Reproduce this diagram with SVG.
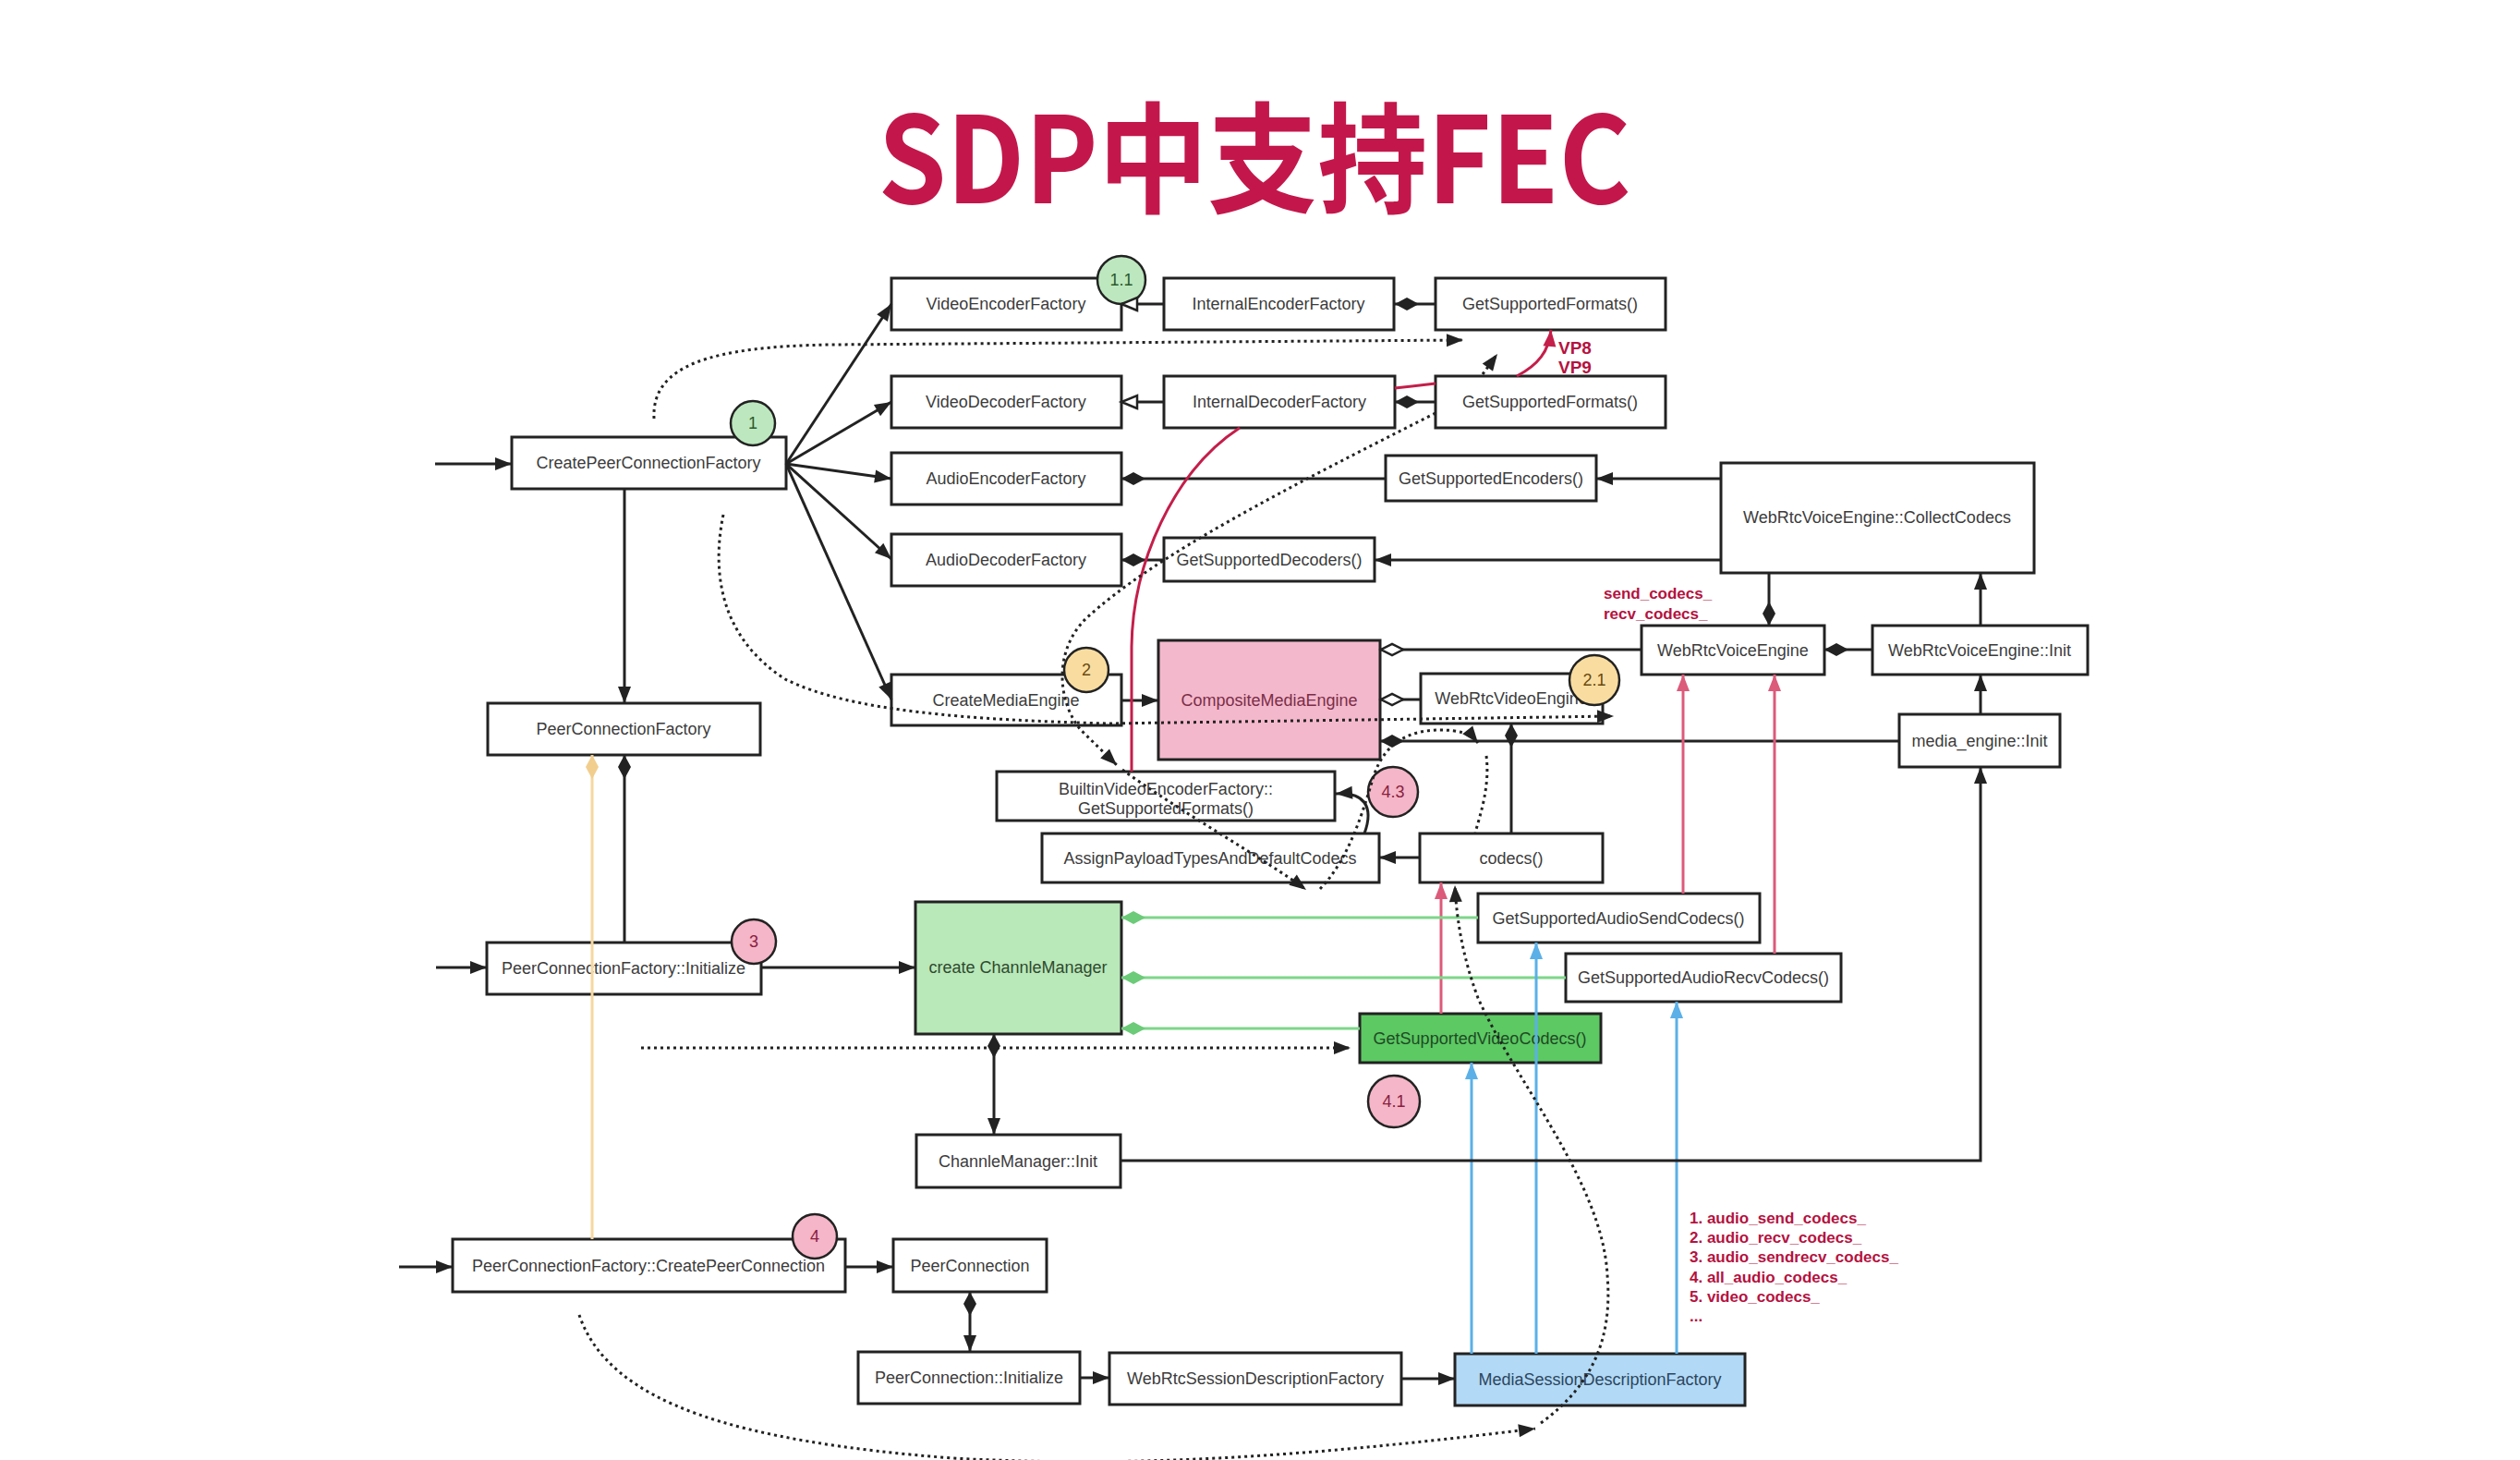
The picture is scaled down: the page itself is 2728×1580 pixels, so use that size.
<svg xmlns="http://www.w3.org/2000/svg" width="2728" height="1580" viewBox="0 0 2728 1580">
<style>
.box{fill:#fff;stroke:#222;stroke-width:3}
.lbl{font-family:'Liberation Sans',Arial,sans-serif;font-size:18px;fill:#3c3c3c;text-anchor:middle}
.ln{fill:none;stroke:#222;stroke-width:3}
.dot{fill:none;stroke:#222;stroke-width:3;stroke-dasharray:3 4}
.pink{fill:none;stroke:#DC5A7A;stroke-width:3}
.redc{fill:none;stroke:#C41E4A;stroke-width:3}
.blue{fill:none;stroke:#5BB0E8;stroke-width:3}
.grn{fill:none;stroke:#7ED68A;stroke-width:3}
.org{fill:none;stroke:#F6D7A0;stroke-width:3}
.circ{stroke:#222;stroke-width:2.5}
.ctx{font-family:'Liberation Sans',Arial,sans-serif;font-size:18px;text-anchor:middle}
.ann{font-family:'Liberation Sans',Arial,sans-serif;font-weight:bold;font-size:17px;fill:#B5123F}
.vp{font-family:'Liberation Sans',Arial,sans-serif;font-weight:bold;font-size:19px;fill:#B5123F}
</style>
<defs>
<marker id="ah" markerUnits="userSpaceOnUse" markerWidth="20" markerHeight="16" refX="18" refY="7" orient="auto" style="overflow:visible"><path d="M0,0 L18,7 L0,14 z" fill="#222"/></marker>
<marker id="ahRed" markerUnits="userSpaceOnUse" markerWidth="20" markerHeight="16" refX="18" refY="7" orient="auto" style="overflow:visible"><path d="M0,0 L18,7 L0,14 z" fill="#C41E4A"/></marker>
<marker id="ahPink" markerUnits="userSpaceOnUse" markerWidth="20" markerHeight="16" refX="18" refY="7" orient="auto" style="overflow:visible"><path d="M0,0 L18,7 L0,14 z" fill="#DC5A7A"/></marker>
<marker id="ahBlue" markerUnits="userSpaceOnUse" markerWidth="20" markerHeight="16" refX="18" refY="7" orient="auto" style="overflow:visible"><path d="M0,0 L18,7 L0,14 z" fill="#5BB0E8"/></marker>
<marker id="dmE" markerUnits="userSpaceOnUse" markerWidth="26" markerHeight="14" refX="26" refY="7" orient="auto" style="overflow:visible"><path d="M0,7 L13,0 L26,7 L13,14 z" fill="#222"/></marker>
<marker id="dmS" markerUnits="userSpaceOnUse" markerWidth="26" markerHeight="14" refX="0" refY="7" orient="auto" style="overflow:visible"><path d="M0,7 L13,0 L26,7 L13,14 z" fill="#222"/></marker>
<marker id="hdm" markerUnits="userSpaceOnUse" markerWidth="26" markerHeight="14" refX="26" refY="7" orient="auto" style="overflow:visible"><path d="M1,7 L13,1 L25,7 L13,13 z" fill="#fff" stroke="#222" stroke-width="2.5"/></marker>
<marker id="gdm" markerUnits="userSpaceOnUse" markerWidth="26" markerHeight="14" refX="26" refY="7" orient="auto" style="overflow:visible"><path d="M0,7 L13,0 L26,7 L13,14 z" fill="#6CCB78"/></marker>
<marker id="odm" markerUnits="userSpaceOnUse" markerWidth="26" markerHeight="14" refX="26" refY="7" orient="auto" style="overflow:visible"><path d="M0,7 L13,0 L26,7 L13,14 z" fill="#F2CE8E"/></marker>
<marker id="htri" markerUnits="userSpaceOnUse" markerWidth="20" markerHeight="16" refX="18" refY="8" orient="auto" style="overflow:visible"><path d="M1,1 L18,8 L1,15 z" fill="#fff" stroke="#222" stroke-width="2.5"/></marker>
</defs>
<rect width="2728" height="1580" fill="#fff"/>
<text x="1358" y="220" font-family="'Noto Sans CJK SC',sans-serif" font-weight="700" font-size="130" fill="#C3174B" text-anchor="middle" textLength="815" lengthAdjust="spacingAndGlyphs">SDP中支持FEC</text>

<g id="n-vef"><rect class="box" x="965" y="301" width="249" height="56"/><text class="lbl" x="1089" y="335">VideoEncoderFactory</text></g>
<g id="n-ief"><rect class="box" x="1260" y="301" width="249" height="56"/><text class="lbl" x="1384" y="335">InternalEncoderFactory</text></g>
<g id="n-gsf1"><rect class="box" x="1554" y="301" width="249" height="56"/><text class="lbl" x="1678" y="335">GetSupportedFormats()</text></g>
<g id="n-vdf"><rect class="box" x="965" y="407" width="249" height="56"/><text class="lbl" x="1089" y="441">VideoDecoderFactory</text></g>
<g id="n-idf"><rect class="box" x="1260" y="407" width="250" height="56"/><text class="lbl" x="1385" y="441">InternalDecoderFactory</text></g>
<g id="n-gsf2"><rect class="box" x="1554" y="407" width="249" height="56"/><text class="lbl" x="1678" y="441">GetSupportedFormats()</text></g>
<g id="n-aef"><rect class="box" x="965" y="490" width="249" height="56"/><text class="lbl" x="1089" y="524">AudioEncoderFactory</text></g>
<g id="n-gse"><rect class="box" x="1500" y="493" width="228" height="49"/><text class="lbl" x="1614" y="524">GetSupportedEncoders()</text></g>
<g id="n-cc"><rect class="box" x="1863" y="501" width="339" height="119"/><text class="lbl" x="2032" y="566">WebRtcVoiceEngine::CollectCodecs</text></g>
<g id="n-adf"><rect class="box" x="965" y="578" width="249" height="56"/><text class="lbl" x="1089" y="612">AudioDecoderFactory</text></g>
<g id="n-gsd"><rect class="box" x="1260" y="582" width="228" height="47"/><text class="lbl" x="1374" y="612">GetSupportedDecoders()</text></g>
<g id="n-cpcf"><rect class="box" x="554" y="473" width="297" height="56"/><text class="lbl" x="702" y="507">CreatePeerConnectionFactory</text></g>
<g id="n-pcf"><rect class="box" x="528" y="761" width="295" height="56"/><text class="lbl" x="675" y="795">PeerConnectionFactory</text></g>
<g id="n-cme"><rect class="box" x="965" y="730" width="249" height="55"/><text class="lbl" x="1089" y="764">CreateMediaEngine</text></g>
<g id="n-comp"><rect class="box" x="1254" y="693" width="240" height="129" style="fill:#F4B8CC"/><text class="lbl" x="1374" y="764" style="fill:#7A2E48">CompositeMediaEngine</text></g>
<g id="n-wvide"><rect class="box" x="1538" y="729" width="197" height="54"/><text class="lbl" x="1636" y="762">WebRtcVideoEngine</text></g>
<g id="n-wvoe"><rect class="box" x="1777" y="677" width="198" height="53"/><text class="lbl" x="1876" y="710">WebRtcVoiceEngine</text></g>
<g id="n-wvoeinit"><rect class="box" x="2027" y="677" width="233" height="53"/><text class="lbl" x="2143" y="710">WebRtcVoiceEngine::Init</text></g>
<g id="n-meinit"><rect class="box" x="2056" y="773" width="174" height="57"/><text class="lbl" x="2143" y="808">media_engine::Init</text></g>
<g id="n-bvef"><rect class="box" x="1079" y="835" width="366" height="53"/><text class="lbl" x="1262" y="860">BuiltinVideoEncoderFactory::</text><text class="lbl" x="1262" y="881">GetSupportedFormats()</text></g>
<g id="n-assign"><rect class="box" x="1128" y="902" width="365" height="53"/><text class="lbl" x="1310" y="935">AssignPayloadTypesAndDefaultCodecs</text></g>
<g id="n-codecs"><rect class="box" x="1537" y="902" width="198" height="53"/><text class="lbl" x="1636" y="935">codecs()</text></g>
<g id="n-gsasc"><rect class="box" x="1600" y="967" width="305" height="53"/><text class="lbl" x="1752" y="1000">GetSupportedAudioSendCodecs()</text></g>
<g id="n-gsarc"><rect class="box" x="1695" y="1032" width="298" height="52"/><text class="lbl" x="1844" y="1064">GetSupportedAudioRecvCodecs()</text></g>
<g id="n-cm"><rect class="box" x="991" y="976" width="223" height="143" style="fill:#B9E8B9"/><text class="lbl" x="1102" y="1053" style="fill:#2F4A2F">create ChannleManager</text></g>
<g id="n-gsvc"><rect class="box" x="1472" y="1097" width="261" height="53" style="fill:#5CC963"/><text class="lbl" x="1602" y="1130" style="fill:#1F4A24">GetSupportedVideoCodecs()</text></g>
<g id="n-pcfinit"><rect class="box" x="527" y="1020" width="297" height="56"/><text class="lbl" x="675" y="1054">PeerConnectionFactory::Initialize</text></g>
<g id="n-cminit"><rect class="box" x="992" y="1228" width="221" height="57"/><text class="lbl" x="1102" y="1263">ChannleManager::Init</text></g>
<g id="n-cpc"><rect class="box" x="490" y="1341" width="425" height="57"/><text class="lbl" x="702" y="1376">PeerConnectionFactory::CreatePeerConnection</text></g>
<g id="n-pc"><rect class="box" x="967" y="1341" width="166" height="57"/><text class="lbl" x="1050" y="1376">PeerConnection</text></g>
<g id="n-pcinit"><rect class="box" x="929" y="1463" width="240" height="56"/><text class="lbl" x="1049" y="1497">PeerConnection::Initialize</text></g>
<g id="n-wsdf"><rect class="box" x="1201" y="1464" width="316" height="56"/><text class="lbl" x="1359" y="1498">WebRtcSessionDescriptionFactory</text></g>
<g id="n-msdf"><rect class="box" x="1575" y="1465" width="314" height="56" style="fill:#B2D9F5"/><text class="lbl" x="1732" y="1499" style="fill:#2C4660">MediaSessionDescriptionFactory</text></g>

<g id="c1"><circle class="circ" cx="815" cy="458" r="24" fill="#BDE8BF"/><text class="ctx" x="815" y="464" fill="#2B5A2B">1</text></g>
<g id="c11"><circle class="circ" cx="1214" cy="303" r="26" fill="#BDE8BF"/><text class="ctx" x="1214" y="309" fill="#2B5A2B">1.1</text></g>
<g id="c2"><circle class="circ" cx="1176" cy="725" r="24" fill="#F9DDA0"/><text class="ctx" x="1176" y="731" fill="#6A4A10">2</text></g>
<g id="c21"><circle class="circ" cx="1726" cy="736" r="27" fill="#F9DDA0"/><text class="ctx" x="1726" y="742" fill="#6A4A10">2.1</text></g>
<g id="c3"><circle class="circ" cx="816" cy="1019" r="24" fill="#F4B6C8"/><text class="ctx" x="816" y="1025" fill="#8A2040">3</text></g>
<g id="c4"><circle class="circ" cx="882" cy="1338" r="24" fill="#F4B6C8"/><text class="ctx" x="882" y="1344" fill="#8A2040">4</text></g>
<g id="c41"><circle class="circ" cx="1509" cy="1192" r="28" fill="#F4B6C8"/><text class="ctx" x="1509" y="1198" fill="#8A2040">4.1</text></g>
<g id="c43"><circle class="circ" cx="1508" cy="857" r="27" fill="#F4B6C8"/><text class="ctx" x="1508" y="863" fill="#8A2040">4.3</text></g>

<g id="connectors">
<path class="ln" d="M471,502 H554" marker-end="url(#ah)"/>
<path class="ln" d="M472,1047 H527" marker-end="url(#ah)"/>
<path class="ln" d="M432,1371 H490" marker-end="url(#ah)"/>
<path class="ln" d="M851,502 L965,329" marker-end="url(#ah)"/>
<path class="ln" d="M851,502 L965,435" marker-end="url(#ah)"/>
<path class="ln" d="M851,502 L965,518" marker-end="url(#ah)"/>
<path class="ln" d="M851,502 L965,605" marker-end="url(#ah)"/>
<path class="ln" d="M851,502 L965,757" marker-end="url(#ah)"/>
<path class="ln" d="M676,529 V761" marker-end="url(#ah)"/>
<path class="ln" d="M1260,329 H1214" marker-end="url(#htri)"/>
<path class="ln" d="M1554,329 H1510" marker-end="url(#dmE)"/>
<path class="ln" d="M1260,435 H1214" marker-end="url(#htri)"/>
<path class="ln" d="M1554,435 H1510" marker-end="url(#dmE)"/>
<path class="ln" d="M1500,518 H1214" marker-end="url(#dmE)"/>
<path class="ln" d="M1863,518 H1728" marker-end="url(#ah)"/>
<path class="ln" d="M1260,606 H1214" marker-end="url(#dmE)"/>
<path class="ln" d="M1863,606 H1488" marker-end="url(#ah)"/>
<path class="ln" d="M1915,620 V677" marker-end="url(#dmE)"/>
<path class="ln" d="M2144,677 V620" marker-end="url(#ah)"/>
<path class="ln" d="M2027,703 H1975" marker-end="url(#dmE)"/>
<path class="ln" d="M2144,773 V730" marker-end="url(#ah)"/>
<path class="ln" d="M1777,703 H1494" marker-end="url(#hdm)"/>
<path class="ln" d="M1538,757 H1494" marker-end="url(#hdm)"/>
<path class="ln" d="M2056,802 H1494" marker-end="url(#dmE)"/>
<path class="ln" d="M1636,902 V783" marker-end="url(#dmE)"/>
<path class="ln" d="M1214,758 H1254" marker-end="url(#ah)"/>
<path class="ln" d="M1537,928 H1493" marker-end="url(#ah)"/>
<path class="ln" d="M1477,902 C1488,872 1476,857 1446,859" marker-end="url(#ah)"/>
<path class="pink" d="M1822,967 V730" marker-end="url(#ahPink)"/>
<path class="pink" d="M1921,1032 V730" marker-end="url(#ahPink)"/>
<path class="pink" d="M1560,1097 V955" marker-end="url(#ahPink)"/>
<path class="grn" d="M1600,993 H1214" marker-end="url(#gdm)"/>
<path class="grn" d="M1695,1058 H1214" marker-end="url(#gdm)"/>
<path class="grn" d="M1472,1113 H1214" marker-end="url(#gdm)"/>
<path class="blue" d="M1593,1465 V1150" marker-end="url(#ahBlue)"/>
<path class="blue" d="M1663,1465 V1020" marker-end="url(#ahBlue)"/>
<path class="blue" d="M1815,1465 V1084" marker-end="url(#ahBlue)"/>
<path class="ln" d="M1213,1256 H2144 V830" marker-end="url(#ah)"/>
<path class="ln" d="M1076,1119 V1228" marker-start="url(#dmS)" marker-end="url(#ah)"/>
<path class="ln" d="M824,1047 H991" marker-end="url(#ah)"/>
<path class="ln" d="M676,1020 V817" marker-end="url(#dmE)"/>
<path class="org" d="M641,1341 V817" marker-end="url(#odm)"/>
<path class="ln" d="M915,1371 H967" marker-end="url(#ah)"/>
<path class="ln" d="M1050,1398 V1463" marker-start="url(#dmS)" marker-end="url(#ah)"/>
<path class="ln" d="M1169,1491 H1201" marker-end="url(#ah)"/>
<path class="ln" d="M1517,1492 H1575" marker-end="url(#ah)"/>
<path class="redc" d="M1225,835 L1225,700 C1226,610 1270,510 1342,463"/>
<path class="redc" d="M1510,420 L1554,415"/>
<path class="redc" d="M1642,407 C1665,395 1677,380 1679,357" marker-end="url(#ahRed)"/>
<path class="dot" d="M708,453 C705,395 770,375 900,373 L1584,368" marker-end="url(#ah)"/>
<path class="dot" d="M783,557 C770,620 780,690 850,735 C920,770 1050,779 1200,783 L1747,775" marker-end="url(#ah)"/>
<path class="dot" d="M1554,447 C1400,525 1250,600 1175,670 C1140,705 1145,760 1170,790 L1209,828" marker-end="url(#ah)"/>
<path class="dot" d="M1605,405 L1621,383" marker-end="url(#ah)"/>
<path class="dot" d="M1215,833 C1280,880 1370,930 1414,963" marker-end="url(#ah)"/>
<path class="dot" d="M1429,962 C1460,930 1475,880 1487,840 C1500,800 1530,790 1559,790 C1580,790 1592,794 1600,804" marker-end="url(#ah)"/>
<path class="dot" d="M1609,818 C1613,850 1603,880 1597,901"/>
<path class="dot" d="M627,1423 C660,1520 800,1560 1031,1578 C1250,1590 1450,1572 1662,1546" marker-end="url(#ah)"/>
<path class="dot" d="M1668,1540 C1730,1495 1745,1440 1740,1380 C1735,1280 1640,1170 1600,1080 C1585,1040 1577,1000 1575,958" marker-end="url(#ah)"/>
<path class="dot" d="M694,1134 H1462" marker-end="url(#ah)"/>
</g>

<g id="annotations">
<text class="vp" x="1687" y="383">VP8</text>
<text class="vp" x="1687" y="404">VP9</text>
<text class="ann" x="1736" y="648">send_codecs_</text>
<text class="ann" x="1736" y="670">recv_codecs_</text>
<text class="ann" x="1829" y="1324">1. audio_send_codecs_</text>
<text class="ann" x="1829" y="1345">2. audio_recv_codecs_</text>
<text class="ann" x="1829" y="1366">3. audio_sendrecv_codecs_</text>
<text class="ann" x="1829" y="1388">4. all_audio_codecs_</text>
<text class="ann" x="1829" y="1409">5. video_codecs_</text>
<text class="ann" x="1829" y="1430">...</text>
</g>
</svg>
